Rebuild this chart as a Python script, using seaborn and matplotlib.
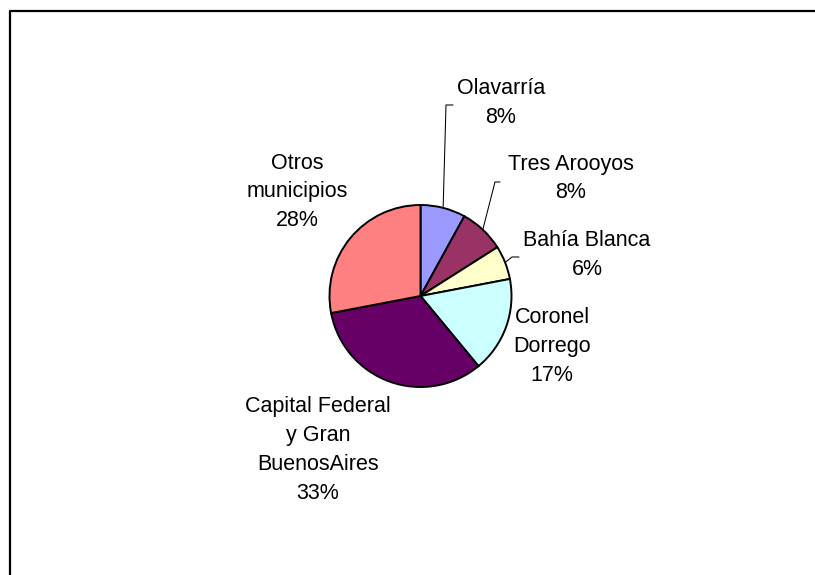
import numpy as np
import seaborn as sns
from matplotlib import pyplot as plt

# Chart data
municipios = ["Olavarría", "Tres Arooyos", "Bahía Blanca", "Coronel\nDorrego",
              "Capital Federal\ny Gran\nBuenosAires", "Otros\nmunicipios"]
porcentajes = [8, 8, 6, 17, 33, 28]
colores = ["#9999FF", "#993366", "#FFFFCC", "#CCFFFF", "#660066", "#FF8080"]

# Label layout in pixels (x, y from top) and leader elbows (None = no leader)
label_pos = [(501, 103), (571, 178.5), (587, 255), (552, 346.5), (318, 450), (297, 192)]
leader_elbow = [((446, 105), (453, 105)), ((495, 182), (500, 182)),
                ((512, 257), (519, 257)), None, None, None]

W, H = 815, 575
CX, CY, R = 420.5, 296, 91


def create_pie(values, colors):
    sns.set_theme(style="white")
    plt.rcParams['font.family'] = ['Liberation Sans', 'DejaVu Sans']

    fig = plt.figure(figsize=(W / 100, H / 100), dpi=100)
    ax = fig.add_axes([0, 0, 1, 1])

    # pie drawn in pixel-like data space, y pointing up
    wedges, _ = ax.pie(values, colors=colors, startangle=90, counterclock=False,
                       center=(CX, H - CY), radius=R,
                       wedgeprops=dict(edgecolor="black", linewidth=1.4))
    ax.set_xlim(0, W)
    ax.set_ylim(0, H)
    ax.set_aspect("equal")
    ax.set_axis_off()

    for wedge, name, pct, (lx, ly), elbow in zip(wedges, municipios, values,
                                                 label_pos, leader_elbow):
        ax.text(lx, H - ly, f"{name}\n{pct}%", ha="center", va="center",
                fontsize=15.5, linespacing=1.48, color="black")
        if elbow is not None:
            mid = np.deg2rad((wedge.theta1 + wedge.theta2) / 2)
            sx = CX + R * np.cos(mid)
            sy = (H - CY) + R * np.sin(mid)
            xs = [sx, elbow[0][0], elbow[1][0]]
            ys = [sy, H - elbow[0][1], H - elbow[1][1]]
            ax.plot(xs, ys, color="black", linewidth=0.75)

    # chart area border (top and left visible)
    ax.plot([9.5, 9.5, W + 5], [-5, H - 11, H - 11], color="black",
            linewidth=1.6, clip_on=False)
    return fig


fig = create_pie(porcentajes, colores)
fig.savefig("out.png", dpi=100)
